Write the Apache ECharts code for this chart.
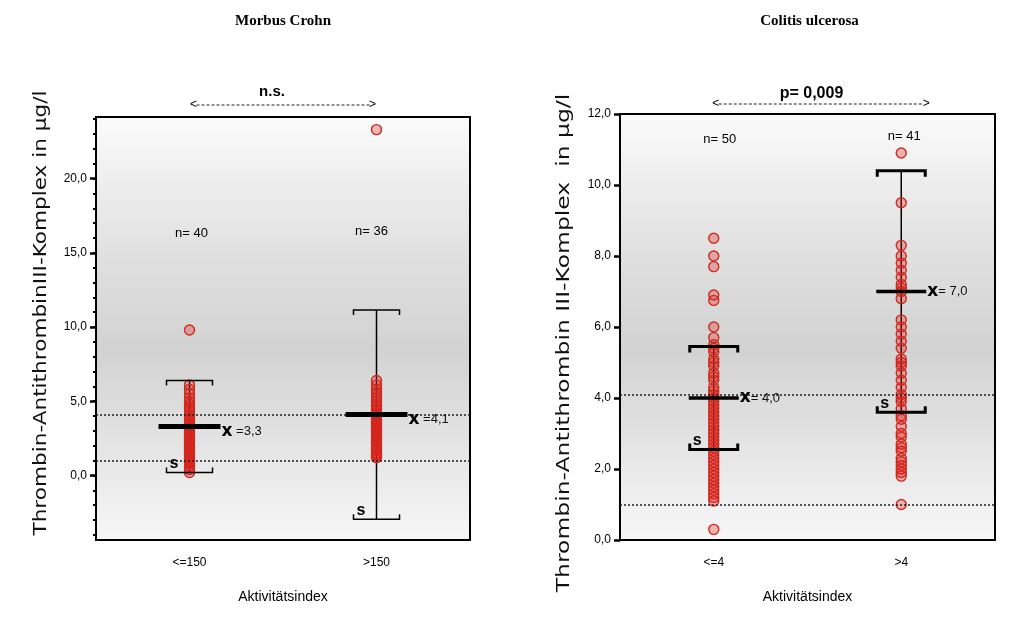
<!DOCTYPE html>
<html><head><meta charset="utf-8">
<script src="https://cdn.jsdelivr.net/npm/echarts@6/dist/echarts.min.js"></script>
<style>html,body{margin:0;padding:0;background:#fff}#c{width:1015px;height:625px}</style>
</head><body><div id="c"></div>
<script>
// ---------- data ----------
const panelTitles = ['Morbus Crohn', 'Colitis ulcerosa'];
const catsCrohn = ['<=150', '>150'];
const catsColitis = ['<=4', '>4'];
const crohnLow = [9.8, 6.1, 5.8, 5.5, 5.2, 5.0, 4.8, 4.6, 4.5, 4.3, 4.1, 4.0, 3.8, 3.7, 3.5, 3.4, 3.3, 3.2, 3.0, 2.9,
  2.8, 2.7, 2.5, 2.4, 2.3, 2.2, 2.0, 1.9, 1.8, 1.6, 1.5, 1.4, 1.2, 1.1, 1.0, 0.9, 0.8, 0.6, 0.4, 0.2];
const crohnHigh = [23.3, 6.4, 6.1, 5.8, 5.6, 5.4, 5.2, 5.0, 4.8, 4.7, 4.5, 4.4, 4.2, 4.1, 4.0, 3.8, 3.7, 3.5, 3.4, 3.3,
  3.1, 3.0, 2.9, 2.7, 2.6, 2.5, 2.3, 2.2, 2.1, 1.9, 1.8, 1.7, 1.5, 1.4, 1.3, 1.2];
const colitisLow = [8.5, 8.0, 7.7, 6.9, 6.75, 6.0, 5.7, 5.5, 5.4, 5.3, 5.1, 5.0, 4.9, 4.7, 4.6, 4.5, 4.3, 4.2, 4.1, 4.0,
  3.9, 3.8, 3.7, 3.6, 3.5, 3.4, 3.3, 3.2, 3.1, 3.0, 2.9, 2.8, 2.7, 2.6, 2.5, 2.4, 2.3, 2.2, 2.1, 2.0,
  1.9, 1.8, 1.7, 1.6, 1.5, 1.4, 1.3, 1.2, 1.1, 0.3];
const colitisHigh = [10.9, 9.5, 8.3, 8.0, 7.8, 7.6, 7.4, 7.2, 7.1, 7.0, 6.8, 6.2, 6.0, 5.8, 5.6, 5.4, 5.1, 5.0, 4.9, 4.7,
  4.5, 4.3, 4.1, 4.0, 3.9, 3.7, 3.5, 3.4, 3.2, 3.0, 2.9, 2.7, 2.6, 2.5, 2.3, 2.2, 2.1, 2.0, 1.9, 1.8, 1.0];
const crohnMean = [3.3, 4.1];
const crohnSD = [3.1, 7.05];
const colitisMean = [4.0, 7.0];
const colitisSD = [1.45, 3.4];
const crohnN = [40, 36];
const colitisN = [50, 41];
const refLines = [1.0, 4.1];
const crohnTest = 'n.s.';
const colitisTest = 'p= 0,009';
const crohnTicks = [0, 5, 10, 15, 20];
const crohnMinorTicks = [-4, -3, -2, -1, 0, 1, 2, 3, 4, 5, 6, 7, 8, 9, 10, 11, 12, 13, 14, 15, 16, 17, 18, 19, 20, 21, 22, 23, 24];
const colitisTicks = [0, 2, 4, 6, 8, 10, 12];
const yTitleCrohn = 'Thrombin-AntithrombinIII-Komplex in µg/l';
const yTitleColitis = 'Thrombin-Antithrombin III-Komplex  in µg/l';
const xTitle = 'Aktivitätsindex';

// ---------- helpers ----------
const FONT = 'Liberation Sans';
const fmt = v => v.toFixed(1).replace('.', ',');
const bg = {type: 'linear', x: 0, y: 0, x2: 0, y2: 1, colorStops: [
  {offset: 0, color: '#fbfbfb'}, {offset: 0.3, color: '#e2e2e2'}, {offset: 0.55, color: '#d2d2d2'},
  {offset: 0.8, color: '#e6e6e6'}, {offset: 1, color: '#f7f7f7'}]};

function pts(low, high) { return low.map(v => [0, v]).concat(high.map(v => [1, v])); }

function stemSeries(gi, means, sds) {
  return {
    type: 'custom', xAxisIndex: gi, yAxisIndex: gi === 0 ? 0 : 2, z: 1,
    data: means.map((m, i) => [i, m, sds[i]]),
    renderItem(params, api) {
      const x = api.value(0), m = api.value(1), s = api.value(2);
      const pt = api.coord([x, m + s]), pb = api.coord([x, m - s]);
      return {type: 'line', shape: {x1: pt[0], y1: pt[1], x2: pb[0], y2: pb[1]},
        style: {stroke: '#000', lineWidth: 1.5}};
    }
  };
}

function barSeries(gi, means, sds, st) {
  return {
    type: 'custom', xAxisIndex: gi, yAxisIndex: gi === 0 ? 0 : 2, z: 5,
    data: means.map((m, i) => [i, m, sds[i]]),
    renderItem(params, api) {
      const x = api.value(0), m = api.value(1), s = api.value(2);
      const pm = api.coord([x, m]), pt = api.coord([x, m + s]), pb = api.coord([x, m - s]);
      const cx = pm[0], hw = st.capHW, tk = st.capTick;
      const capStyle = {stroke: '#000', fill: null, lineWidth: st.capW};
      return {type: 'group', children: [
        {type: 'polyline', shape: {points: [[cx - hw, pt[1] + tk], [cx - hw, pt[1]], [cx + hw, pt[1]], [cx + hw, pt[1] + tk]]}, style: capStyle},
        {type: 'polyline', shape: {points: [[cx - hw, pb[1] - tk], [cx - hw, pb[1]], [cx + hw, pb[1]], [cx + hw, pb[1] - tk]]}, style: capStyle},
        {type: 'line', shape: {x1: cx - st.meanHW, y1: pm[1], x2: cx + st.meanHW, y2: pm[1]}, style: {stroke: '#000', lineWidth: st.meanW}},
        {type: 'text', x: cx - hw + 3, y: pb[1] - 1, style: {text: 's', fontFamily: FONT, fontWeight: 'bold', fontSize: 16, fill: '#000', verticalAlign: 'bottom', align: 'left'}},
        {type: 'text', x: cx + st.meanHW + 1, y: pm[1] + st.lblDy, style: {
          text: '{x|x}' + st.sep + fmt(m), verticalAlign: 'middle', align: 'left', fill: '#111',
          fontFamily: FONT, fontSize: 13,
          rich: {x: {fontFamily: 'DejaVu Sans', fontWeight: 'bold', fontSize: 17, fill: '#000'}}}}
      ]};
    }
  };
}

function scatterSeries(gi, data) {
  return {
    type: 'scatter', xAxisIndex: gi, yAxisIndex: gi === 0 ? 0 : 2, z: 3,
    symbol: 'circle', symbolSize: 10, data,
    itemStyle: {color: 'rgba(230,25,25,0.3)', borderColor: '#cf2a1e', borderWidth: 1.4, opacity: 1},
    emphasis: {disabled: true}, silent: true,
    markLine: {silent: true, symbol: 'none', label: {show: false}, animation: false,
      lineStyle: {type: [2, 2], color: '#222', width: 1.5},
      data: refLines.map(v => ({yAxis: v}))}
  };
}

const axisLineStyle = {lineStyle: {color: '#000', width: 2}};
function xAxis(gi, cats) {
  return {type: 'category', gridIndex: gi, data: cats, boundaryGap: true,
    axisLine: {onZero: false, ...axisLineStyle},
    axisTick: {alignWithLabel: true, length: 7, lineStyle: {color: '#000', width: 2.5}},
    axisLabel: {color: '#000', fontSize: 12, fontFamily: FONT, margin: 17},
    splitLine: {show: false},
    name: xTitle, nameLocation: 'middle', nameGap: 50,
    nameTextStyle: {color: '#000', fontSize: 14, fontFamily: FONT}};
}

const option = {
  animation: false,
  backgroundColor: '#fff',
  grid: [
    {left: 96, top: 117, width: 374, height: 423, show: true, borderColor: '#000', borderWidth: 2, backgroundColor: bg, containLabel: false},
    {left: 620, top: 114, width: 375, height: 426, show: true, borderColor: '#000', borderWidth: 2, backgroundColor: bg, containLabel: false}
  ],
  xAxis: [xAxis(0, catsCrohn), xAxis(1, catsColitis)],
  yAxis: [
    {type: 'value', gridIndex: 0, min: -4.35, max: 24.15, position: 'left',
      axisLine: {show: true, onZero: false, ...axisLineStyle},
      axisTick: {show: true, customValues: crohnTicks, length: 6, lineStyle: {color: '#000', width: 2.5}},
      axisLabel: {customValues: crohnTicks, formatter: fmt, color: '#000', fontSize: 12, fontFamily: FONT, margin: 9},
      splitLine: {show: false}},
    {type: 'value', gridIndex: 0, min: -4.35, max: 24.15, position: 'left', offset: 0,
      axisLine: {show: false, onZero: false},
      axisTick: {show: true, customValues: crohnMinorTicks, length: 3, lineStyle: {color: '#000', width: 2}},
      axisLabel: {show: false}, splitLine: {show: false}},
    {type: 'value', gridIndex: 1, min: 0, max: 12, position: 'left',
      axisLine: {show: true, onZero: false, ...axisLineStyle},
      axisTick: {show: true, customValues: colitisTicks, length: 6, lineStyle: {color: '#000', width: 2.5}},
      axisLabel: {customValues: colitisTicks, formatter: fmt, color: '#000', fontSize: 12, fontFamily: FONT, margin: 9},
      splitLine: {show: false}}
  ],
  series: [
    stemSeries(0, crohnMean, crohnSD),
    scatterSeries(0, pts(crohnLow, crohnHigh)),
    barSeries(0, crohnMean, crohnSD, {capHW: 23, capTick: 5, capW: 1.5, meanHW: 31, meanW: 5, lblDy: 5, sep: ' ='}),
    stemSeries(1, colitisMean, colitisSD),
    scatterSeries(1, pts(colitisLow, colitisHigh)),
    barSeries(1, colitisMean, colitisSD, {capHW: 24, capTick: 6, capW: 3, meanHW: 25, meanW: 3.5, lblDy: 0, sep: '= '})
  ]
};

const chart = echarts.init(document.getElementById('c'), null, {renderer: 'canvas'});
chart.setOption(option);

// ---------- annotations ----------
const cx = (gi, cat) => chart.convertToPixel({xAxisIndex: gi}, cat);
const c0 = [cx(0, catsCrohn[0]), cx(0, catsCrohn[1])];
const c1 = [cx(1, catsColitis[0]), cx(1, catsColitis[1])];
function txt(x, y, text, size, bold, family) {
  return {type: 'text', x, y, silent: true, style: {text, fontSize: size, fontWeight: bold ? 'bold' : 'normal',
    fontFamily: family || FONT, fill: '#000', align: 'center', verticalAlign: 'middle'}};
}
function vtitle(x, y, text, sx) {
  return {type: 'text', x, y, rotation: Math.PI / 2, scaleX: sx, silent: true,
    style: {text, fontSize: 17, fontFamily: 'DejaVu Sans', fill: '#111', align: 'center', verticalAlign: 'middle'}};
}
function arrow(xa, xb, y) {
  return [
    {type: 'line', silent: true, shape: {x1: xa + 5, y1: y, x2: xb - 5, y2: y}, style: {stroke: '#222', lineWidth: 1, lineDash: [3, 2]}},
    txt(xa + 2, y, '<', 12, false), txt(xb - 2, y, '>', 12, false)
  ];
}
const g = [];
g.push(txt((c0[0] + c0[1]) / 2, 21, panelTitles[0], 15, true, 'Liberation Serif'));
g.push(txt((c1[0] + c1[1]) / 2 + 2, 21, panelTitles[1], 15, true, 'Liberation Serif'));
g.push(txt((c0[0] + c0[1]) / 2 - 11, 92, crohnTest, 15, true));
g.push(...arrow(c0[0] + 2, c0[1] - 2, 105));
g.push(txt((c1[0] + c1[1]) / 2 + 4, 94, colitisTest, 16, true));
g.push(...arrow(c1[0], c1[1] + 27, 104));
g.push(txt(c0[0] + 2, 233, 'n= ' + crohnN[0], 13, false));
g.push(txt(c0[1] - 5, 231, 'n= ' + crohnN[1], 13, false));
g.push(txt(c1[0] + 6, 139, 'n= ' + colitisN[0], 13, false));
g.push(txt(c1[1] + 3, 136, 'n= ' + colitisN[1], 13, false));
g.push(vtitle(42, 313, yTitleCrohn, 1.27));
g.push(vtitle(565, 343, yTitleColitis, 1.38));
chart.setOption({graphic: {elements: g}});
</script>
</body></html>
